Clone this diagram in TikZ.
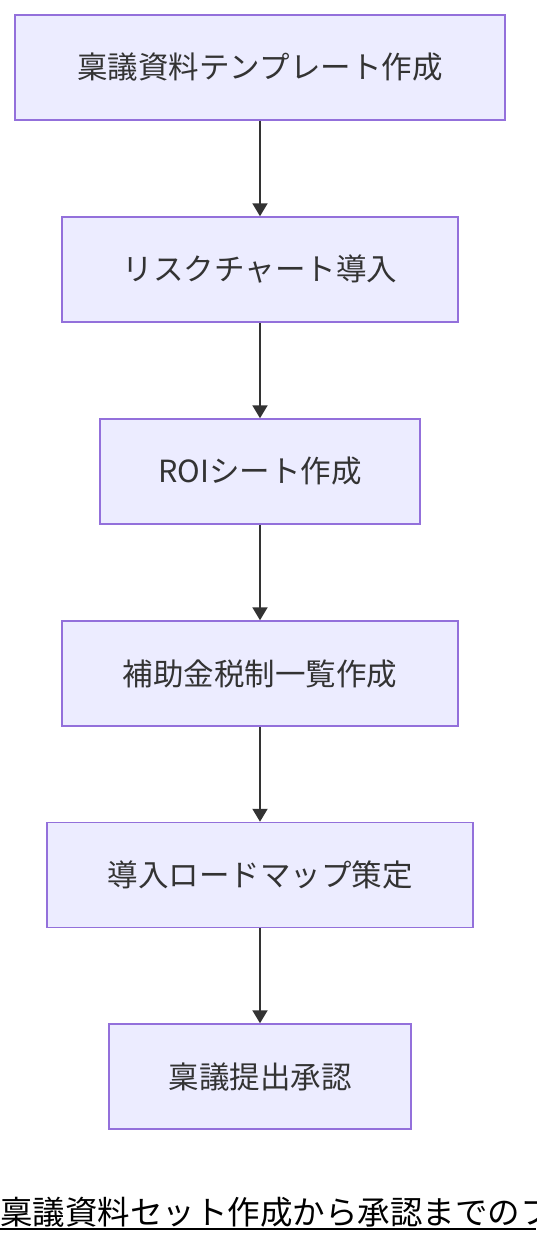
\documentclass[tikz,border=0pt]{standalone}
\usepackage{fontspec}
\setmainfont{Noto Sans CJK JP}
\usetikzlibrary{arrows.meta}
\definecolor{nodefill}{HTML}{ECECFF}
\definecolor{nodeline}{HTML}{9370DB}
\definecolor{txt}{HTML}{333333}
\tikzset{
  box/.style={draw=nodeline, fill=nodefill, line width=1.5pt, text=txt,
    font=\fontsize{30.5}{36}\selectfont, inner sep=0pt, anchor=center},
  flow/.style={draw=txt, line width=2pt, -{Triangle[length=13pt,width=15pt]}}
}
\begin{document}
\begin{tikzpicture}[x=1pt,y=-1pt]
\useasboundingbox (0,0) rectangle (536,1244);
\node[box, minimum width=490pt, minimum height=105pt] (a) at (260,67.5) {稟議資料テンプレート作成};
\node[box, minimum width=396pt, minimum height=105pt] (b) at (260,269.5) {リスクチャート導入};
\node[box, minimum width=320pt, minimum height=105pt] (c) at (260,471.5) {ROIシート作成};
\node[box, minimum width=396pt, minimum height=105pt] (d) at (260,673.5) {補助金税制一覧作成};
\node[box, minimum width=426pt, minimum height=105pt] (e) at (260,875) {導入ロードマップ策定};
\node[box, minimum width=302pt, minimum height=105pt] (f) at (260,1076.5) {稟議提出承認};
\draw[flow] (a) -- (b);
\draw[flow] (b) -- (c);
\draw[flow] (c) -- (d);
\draw[flow] (d) -- (e);
\draw[flow] (e) -- (f);
\node[anchor=base west, inner sep=0pt, font=\fontsize{32.5}{38}\selectfont, text=black] (cap) at (0,1224) {稟議資料セット作成から承認までのフロー};
\coordinate (ul1) at (0,1229);
\coordinate (ul2) at (536,1229);
\draw[line width=2pt, black] (ul1) -- (ul2);
\end{tikzpicture}
\end{document}
